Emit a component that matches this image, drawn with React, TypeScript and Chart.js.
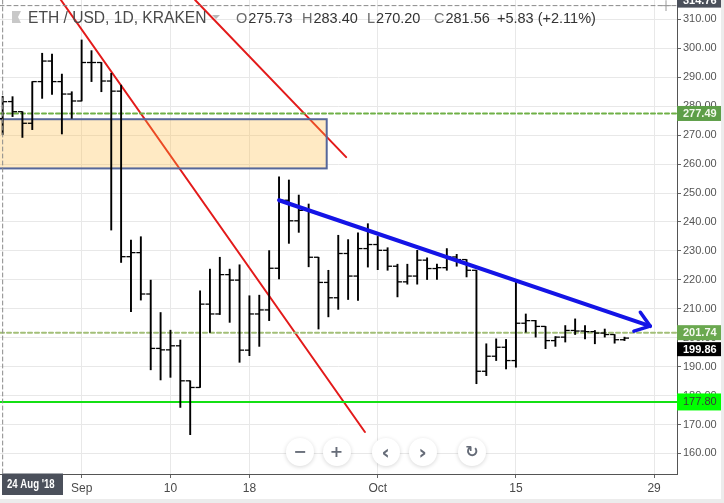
import React, { useEffect, useRef } from "react";
import { Chart, registerables } from "chart.js";

Chart.register(...registerables);

// ---------- data ----------
const dates = [
  "2018-08-24", "2018-08-25", "2018-08-26", "2018-08-27", "2018-08-28", "2018-08-29", "2018-08-30", "2018-08-31",
  "2018-09-01", "2018-09-02", "2018-09-03", "2018-09-04", "2018-09-05", "2018-09-06", "2018-09-07", "2018-09-08",
  "2018-09-09", "2018-09-10", "2018-09-11", "2018-09-12", "2018-09-13", "2018-09-14", "2018-09-15", "2018-09-16",
  "2018-09-17", "2018-09-18", "2018-09-19", "2018-09-20", "2018-09-21", "2018-09-22", "2018-09-23", "2018-09-24",
  "2018-09-25", "2018-09-26", "2018-09-27", "2018-09-28", "2018-09-29", "2018-09-30", "2018-10-01", "2018-10-02",
  "2018-10-03", "2018-10-04", "2018-10-05", "2018-10-06", "2018-10-07", "2018-10-08", "2018-10-09", "2018-10-10",
  "2018-10-11", "2018-10-12", "2018-10-13", "2018-10-14", "2018-10-15", "2018-10-16", "2018-10-17", "2018-10-18",
  "2018-10-19", "2018-10-20", "2018-10-21", "2018-10-22", "2018-10-23", "2018-10-24", "2018-10-25", "2018-10-26",
];

const opens = [
  275.73, 281.6, 278.1, 274.1, 288.5, 295.6, 288.5, 284.2,
  281.8, 295.1, 295.1, 288.7, 285.2, 228.0, 229.4, 215.1,
  196.3, 195.8, 197.2, 185.1, 182.8, 211.6, 208.2, 221.8,
  219.9, 195.7, 208.2, 209.6, 224.0, 247.5, 240.4, 244.0,
  227.8, 219.1, 213.8, 229.1, 221.3, 230.8, 232.2, 230.2,
  224.7, 219.3, 221.3, 226.8, 223.9, 224.2, 227.9, 227.0,
  223.3, 188.4, 193.6, 196.7, 192.1, 205.0, 205.9, 203.9,
  199.0, 200.2, 202.5, 202.3, 202.1, 201.6, 201.1, 199.3,
];

const highs = [
  283.40, 283.3, 278.1, 288.5, 298.3, 298.0, 291.1, 285.0,
  302.9, 299.2, 295.1, 291.4, 287.3, 233.7, 234.9, 219.9,
  208.7, 202.6, 199.2, 185.1, 216.2, 223.7, 227.8, 223.7,
  225.2, 214.5, 214.7, 230.1, 255.6, 254.5, 249.3, 246.2,
  227.8, 223.3, 235.4, 233.9, 236.2, 239.4, 235.0, 231.1,
  225.4, 225.4, 230.2, 227.6, 225.4, 230.8, 228.8, 227.0,
  223.3, 197.9, 199.6, 199.4, 219.8, 208.2, 206.0, 203.9,
  200.4, 204.2, 206.5, 204.2, 202.5, 203.0, 201.1, 200.2,
];

const lows = [
  270.20, 276.4, 269.2, 271.9, 282.7, 284.1, 270.4, 275.8,
  281.8, 288.5, 285.0, 237.2, 226.0, 209.0, 213.0, 188.9,
  185.4, 186.3, 175.9, 166.5, 182.8, 201.8, 208.0, 205.3,
  191.5, 193.8, 197.0, 205.9, 220.3, 232.6, 236.4, 224.5,
  203.0, 207.2, 209.8, 213.2, 212.9, 224.4, 223.5, 223.3,
  214.1, 218.5, 218.5, 220.1, 220.1, 223.3, 224.7, 221.0,
  184.1, 186.9, 192.1, 189.2, 189.8, 201.9, 200.2, 196.2,
  197.0, 198.5, 201.1, 199.6, 197.9, 200.2, 198.1, 199.0,
];

const closes = [
  281.56, 278.1, 274.1, 288.5, 295.6, 288.5, 284.2, 281.8,
  295.1, 295.1, 288.7, 285.2, 228.0, 229.4, 215.1, 196.3,
  195.8, 197.2, 185.1, 182.8, 211.6, 208.2, 221.8, 219.9,
  195.7, 208.2, 209.6, 224.0, 247.5, 240.4, 244.0, 227.8,
  219.1, 213.8, 229.1, 221.3, 230.8, 232.2, 230.2, 224.7,
  219.3, 221.3, 226.8, 223.9, 224.2, 227.9, 227.0, 223.3,
  188.4, 193.6, 196.7, 192.1, 205.0, 205.9, 203.9, 199.0,
  200.2, 202.5, 202.3, 202.1, 201.6, 201.1, 199.3, 199.86,
];

const xTickPositions = [8, 17, 25, 38, 52, 66];
const xTickLabels = ["Sep", "10", "18", "Oct", "15", "29"];
const yTickValues = [160, 170, 180, 190, 200, 210, 220, 230, 240, 250, 260, 270, 280, 290, 300, 310];

const xMin = -0.27;
const xMax = 68.32;
const yMin = 152.9;
const yMax = 316.7;

// drawings (data coordinates: bar index, price)
const redLineA = [{ x: 5.9, y: 316.7 }, { x: 36.7, y: 167.4 }];
const redLineB = [{ x: 19.5, y: 316.7 }, { x: 34.8, y: 262.4 }];
const blueLine = [{ x: 28, y: 247.5 }, { x: 65.6, y: 204.0 }];
const zoneX = [-2, 32.83];
const zoneY = [258.5, 275.5];

const upperLevel = 277.49;
const middleLevel = 201.74;
const supportLevel = 177.8;
const lastPrice = 199.86;
const crossPrice = 314.76;
const crossIndex = 0;
const crossDateLabel = "24 Aug '18";

const titleText = "ETH / USD, 1D, KRAKEN";
const ohlcKeys = ["O", "H", "L", "C"];
const ohlcValues = ["275.73", "283.40", "270.20", "281.56"];
const changeText = "+5.83 (+2.11%)";

const FONT = '"Liberation Sans", Arial, sans-serif';

const hLine = (level: number) => [{ x: xMin, y: level }, { x: xMax, y: level }];

const overlayPlugin = {
  id: "overlay",
  beforeDraw(chart: any) {
    const ctx = chart.ctx;
    ctx.save();
    ctx.fillStyle = "#ffffff";
    ctx.fillRect(0, 0, chart.width, chart.height);
    ctx.restore();
  },
  afterDatasetDraw(chart: any, args: any) {
    const ds = chart.data.datasets[args.index];
    if (ds.label !== "redB") return;
    const { ctx, chartArea } = chart;
    const x = chart.scales.x;
    const y = chart.scales.y;
    ctx.save();
    ctx.beginPath();
    ctx.rect(chartArea.left, chartArea.top, chartArea.right - chartArea.left, chartArea.bottom - chartArea.top);
    ctx.clip();
    const l = x.getPixelForValue(zoneX[0]);
    const r = x.getPixelForValue(zoneX[1]);
    const t = y.getPixelForValue(zoneY[1]);
    const b = y.getPixelForValue(zoneY[0]);
    ctx.fillStyle = "rgba(255, 184, 60, 0.30)";
    ctx.fillRect(l, t, r - l, b - t);
    ctx.strokeStyle = "#56679a";
    ctx.lineWidth = 2;
    ctx.strokeRect(l, t, r - l, b - t);
    ctx.restore();
  },
  afterDraw(chart: any) {
    const { ctx, chartArea } = chart;
    const x = chart.scales.x;
    const y = chart.scales.y;
    ctx.save();

    // arrow head of the blue trend line
    const x1 = x.getPixelForValue(blueLine[0].x);
    const y1 = y.getPixelForValue(blueLine[0].y);
    const x2 = x.getPixelForValue(blueLine[1].x);
    const y2 = y.getPixelForValue(blueLine[1].y);
    const ang = Math.atan2(y1 - y2, x1 - x2);
    const wing = 17;
    const spread = (36 * Math.PI) / 180;
    ctx.strokeStyle = "#1414e6";
    ctx.lineWidth = 3.5;
    ctx.lineCap = "round";
    ctx.lineJoin = "round";
    ctx.beginPath();
    ctx.moveTo(x2 + Math.cos(ang + spread) * wing, y2 + Math.sin(ang + spread) * wing);
    ctx.lineTo(x2, y2);
    ctx.lineTo(x2 + Math.cos(ang - spread) * wing, y2 + Math.sin(ang - spread) * wing);
    ctx.stroke();

    // crosshair
    const cy = y.getPixelForValue(crossPrice);
    const cx = x.getPixelForValue(crossIndex);
    ctx.strokeStyle = "#8a8a8a";
    ctx.lineWidth = 1;
    ctx.setLineDash([4, 3]);
    ctx.beginPath();
    ctx.moveTo(chartArea.left, cy);
    ctx.lineTo(chartArea.right, cy);
    ctx.moveTo(cx, chartArea.top);
    ctx.lineTo(cx, chartArea.bottom);
    ctx.stroke();
    ctx.setLineDash([]);
    // cursor cross
    ctx.strokeStyle = "#9a9a9a";
    ctx.beginPath();
    ctx.moveTo(chartArea.right - 16, cy);
    ctx.lineTo(chartArea.right - 6, cy);
    ctx.moveTo(chartArea.right - 11, cy - 5);
    ctx.lineTo(chartArea.right - 11, cy + 5);
    ctx.stroke();

    // price tags on the right axis
    const tagLeft = chartArea.right;
    const tagW = 45;
    const tags = [
      { v: upperLevel, bg: "#5d9e48", fg: "#f0f8ea", h: 15, bold: true },
      { v: middleLevel, bg: "#6aa84f", fg: "#f4f9ee", h: 15, bold: true },
      { v: lastPrice, bg: "#000000", fg: "#ffffff", h: 14, bold: true },
      { v: supportLevel, bg: "#00ff00", fg: "#3a3a3a", h: 17, bold: false },
    ];
    let prevBottom = -Infinity;
    const sorted = tags
      .map((t) => ({ ...t, py: y.getPixelForValue(t.v) }))
      .sort((a, b) => a.py - b.py);
    for (const t of sorted) {
      let c = t.py;
      if (c - t.h / 2 < prevBottom + 2) c = prevBottom + 2 + t.h / 2;
      ctx.fillStyle = t.bg;
      ctx.fillRect(tagLeft, c - t.h / 2, tagW, t.h);
      ctx.fillStyle = t.fg;
      ctx.font = (t.bold ? "bold " : "") + "11px " + FONT;
      ctx.textAlign = "left";
      ctx.textBaseline = "middle";
      ctx.fillText(t.v.toFixed(2), tagLeft + 6, c + 0.5);
      prevBottom = c + t.h / 2;
    }
    // crosshair price tag
    ctx.fillStyle = "#4b505b";
    ctx.fillRect(tagLeft, cy - 13, tagW, 15);
    ctx.fillStyle = "#ffffff";
    ctx.font = "bold 11px " + FONT;
    ctx.textBaseline = "middle";
    ctx.fillText(crossPrice.toFixed(2), tagLeft + 6, cy - 5);

    // crosshair date tag
    ctx.fillStyle = "#4b505b";
    ctx.fillRect(2, chartArea.bottom - 0.5, 61, 21.5);
    ctx.fillStyle = "#ffffff";
    ctx.save();
    ctx.translate(7, chartArea.bottom + 10.5);
    ctx.scale(0.8, 1);
    ctx.font = "bold 12px " + FONT;
    ctx.textAlign = "left";
    ctx.textBaseline = "middle";
    ctx.fillText(crossDateLabel, 0, 0);
    ctx.restore();

    // header
    ctx.fillStyle = "#c8c8c8";
    ctx.beginPath();
    ctx.moveTo(12, 11);
    ctx.lineTo(21, 11);
    ctx.lineTo(18, 17);
    ctx.lineTo(21, 23);
    ctx.lineTo(12, 23);
    ctx.closePath();
    ctx.fill();
    ctx.fillStyle = "#4a4a4a";
    ctx.font = "15.6px " + FONT;
    ctx.textAlign = "left";
    ctx.textBaseline = "alphabetic";
    ctx.fillText(titleText, 28, 22.5);
    ctx.fillStyle = "#b8b8b8";
    ctx.beginPath();
    ctx.moveTo(212, 15);
    ctx.lineTo(220, 15);
    ctx.lineTo(216, 19);
    ctx.closePath();
    ctx.fill();

    const starts = [236, 302, 367, 434];
    ctx.font = "14.5px " + FONT;
    for (let i = 0; i < ohlcKeys.length; i++) {
      ctx.fillStyle = "#6a6a6a";
      ctx.fillText(ohlcKeys[i], starts[i], 22.5);
      const w = ctx.measureText(ohlcKeys[i]).width;
      ctx.fillStyle = "#333333";
      ctx.fillText(ohlcValues[i], starts[i] + w + 1, 22.5);
    }
    ctx.fillStyle = "#333333";
    ctx.fillText(changeText, 497, 22.5);

    // panel borders
    ctx.fillStyle = "#ececec";
    ctx.fillRect(chart.width - 3, 0, 3, chart.height);
    ctx.fillRect(0, chart.height - 4, chart.width, 4);

    ctx.restore();
  },
};

const buttons = [
  { label: "\u2212", cx: 300 },
  { label: "+", cx: 336.5 },
  { label: "\u2039", cx: 385.5 },
  { label: "\u203A", cx: 422.5 },
  { label: "\u21BB", cx: 472 },
];

const noPad = (scale: any) => {
  scale.paddingTop = 0;
  scale.paddingBottom = 0;
  scale.paddingLeft = 0;
  scale.paddingRight = 0;
};

export default function App() {
  const ref = useRef<HTMLCanvasElement>(null);

  useEffect(() => {
    document.body.style.margin = "0";
    const canvas = ref.current;
    if (!canvas) return;

    const barData = dates.map((_, i) => ({ x: i, y: [lows[i], highs[i]] }));
    const openData = dates.map((_, i) => ({ x: i, y: opens[i] }));
    const closeData = dates.map((_, i) => ({ x: i, y: closes[i] }));

    const lineDs = (label: string, data: any[], color: string, width: number, order: number, dash: number[] = []) => ({
      type: "line" as const,
      label,
      data,
      borderColor: color,
      borderWidth: width,
      borderDash: dash,
      pointRadius: 0,
      fill: false,
      order,
      borderCapStyle: "round" as const,
    });

    const chart = new Chart(canvas, {
      type: "bar",
      data: {
        datasets: [
          lineDs("redA", redLineA, "#e31a1a", 2, 11),
          lineDs("redB", redLineB, "#e31a1a", 2, 10),
          lineDs("upper", hLine(upperLevel), "#6fb046", 2, 9, [4, 3]),
          lineDs("middle", hLine(middleLevel), "#a3bf78", 2, 9, [4, 3]),
          lineDs("support", hLine(supportLevel), "#14e014", 2, 9),
          {
            type: "bar" as const,
            label: "range",
            data: barData as any,
            backgroundColor: "#000000",
            borderWidth: 0,
            barThickness: 1.25,
            order: 5,
          },
          {
            type: "scatter" as const,
            label: "open",
            data: openData,
            pointStyle: "dash",
            rotation: 180,
            pointRadius: 4.5,
            borderColor: "#000000",
            backgroundColor: "#000000",
            borderWidth: 1.3,
            order: 4,
          },
          {
            type: "scatter" as const,
            label: "close",
            data: closeData,
            pointStyle: "dash",
            rotation: 0,
            pointRadius: 4.5,
            borderColor: "#000000",
            backgroundColor: "#000000",
            borderWidth: 1.3,
            order: 4,
          },
          lineDs("blue", blueLine, "#1414e6", 4, 1),
        ] as any,
      },
      options: {
        responsive: false,
        animation: false,
        events: [],
        layout: { padding: 0, autoPadding: false },
        plugins: {
          legend: { display: false },
          tooltip: { enabled: false },
        },
        scales: {
          x: {
            type: "linear",
            min: xMin,
            max: xMax,
            offset: false,
            position: "bottom",
            grid: { color: "#e8e8e8", tickColor: "#666666", tickLength: 4, offset: false },
            border: { color: "#555555", width: 1 },
            ticks: {
              autoSkip: false,
              maxRotation: 0,
              padding: 3,
              color: "#4a4a4a",
              font: { size: 12, family: FONT },
              callback: (value: any) => {
                const i = xTickPositions.indexOf(Number(value));
                return i >= 0 ? xTickLabels[i] : "";
              },
            },
            afterBuildTicks: (scale: any) => {
              scale.ticks = xTickPositions.map((v) => ({ value: v }));
            },
            afterFit: (scale: any) => {
              scale.height = 29;
              noPad(scale);
            },
          },
          y: {
            type: "linear",
            position: "right",
            min: yMin,
            max: yMax,
            grid: { color: "#e8e8e8", tickColor: "#666666", tickLength: 4 },
            border: { color: "#555555", width: 1 },
            ticks: {
              padding: 2,
              color: "#555555",
              font: { size: 11, family: FONT },
              callback: (value: any) => Number(value).toFixed(2),
            },
            afterBuildTicks: (scale: any) => {
              scale.ticks = yTickValues.map((v) => ({ value: v }));
            },
            afterFit: (scale: any) => {
              scale.width = 47;
              noPad(scale);
            },
          },
        },
      } as any,
      plugins: [overlayPlugin],
    });

    return () => chart.destroy();
  }, []);

  return (
    <div style={{ position: "relative", width: 724, height: 503, background: "#ffffff" }}>
      <canvas ref={ref} width={724} height={503} style={{ display: "block", width: 724, height: 503 }} />
      {buttons.map((b) => (
        <div
          key={b.label}
          style={{
            position: "absolute",
            left: b.cx - 14,
            top: 452 - 14,
            width: 28,
            height: 28,
            borderRadius: "50%",
            background: "#ffffff",
            boxShadow: "0 1px 4px rgba(0,0,0,0.16)",
            display: "flex",
            alignItems: "center",
            justifyContent: "center",
            color: "#666c78",
            fontFamily: "'DejaVu Sans', sans-serif",
            fontWeight: 700,
            fontSize: b.label === "\u2039" || b.label === "\u203A" ? 20 : 16,
            lineHeight: "28px",
            userSelect: "none",
          }}
        >
          {b.label}
        </div>
      ))}
    </div>
  );
}
